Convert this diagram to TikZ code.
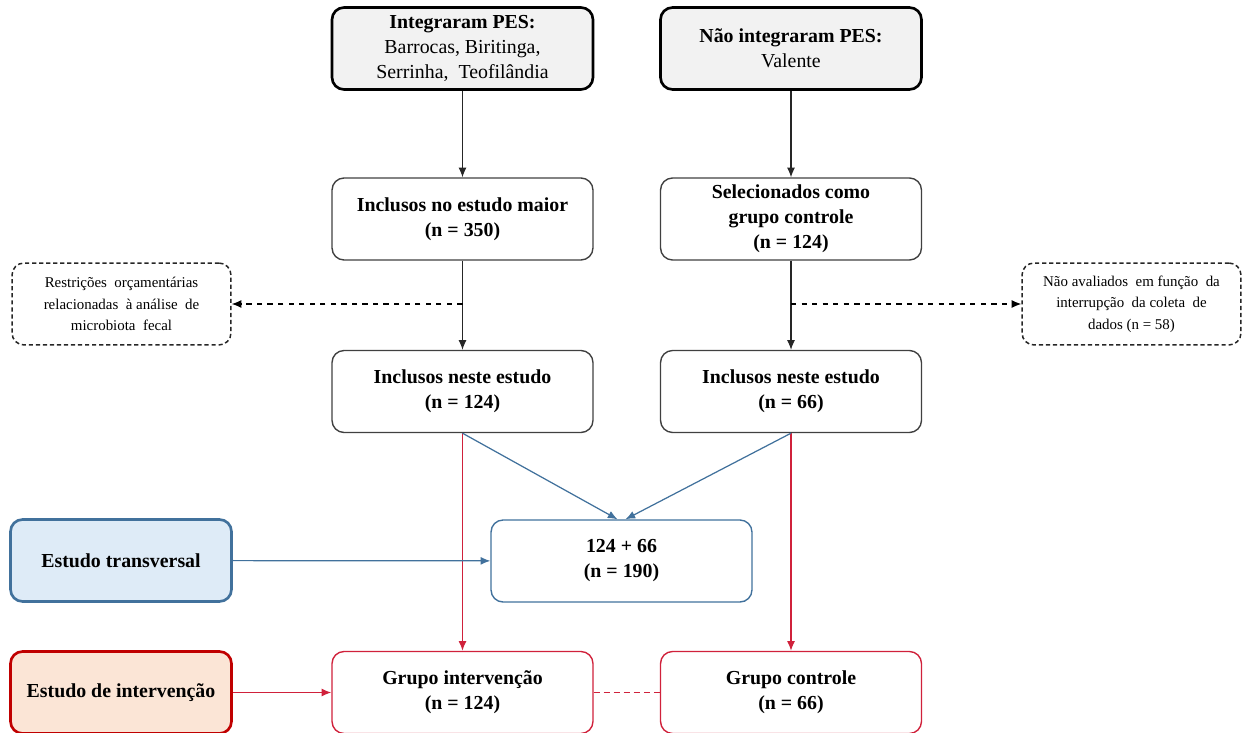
\documentclass[tikz,border=0pt]{standalone}
\usepackage{fontspec}
\setmainfont{Liberation Serif}
\usetikzlibrary{arrows.meta}

\definecolor{boxgray}{HTML}{F2F2F2}
\definecolor{lineblue}{HTML}{41719C}
\definecolor{fillblue}{HTML}{DEEBF7}
\definecolor{linered}{HTML}{C00000}
\definecolor{arrowred}{HTML}{D0213B}
\definecolor{fillred}{HTML}{FBE5D6}

\begin{document}
\begin{tikzpicture}[x=0.02cm,y=-0.02cm,>={Latex[length=5.5pt,width=4.5pt]},
		box/.style={draw=black!75, line width=0.8pt, rounded corners=0.24cm, align=center,
			minimum width=5.22cm, minimum height=1.64cm, inner sep=2pt,
			font=\fontsize{11.3}{14.2}\selectfont},
		topbox/.style={box, draw=black, line width=1.5pt, fill=boxgray},
		notebox/.style={draw=black!85, line width=0.85pt, dash pattern=on 2.4pt off 1.6pt,
			rounded corners=0.24cm, align=center, minimum width=4.38cm, minimum height=1.64cm,
			inner sep=2pt, font=\fontsize{8.5}{12.3}\selectfont},
		sidebox/.style={box, line width=1.5pt, minimum width=4.42cm}]
	\useasboundingbox (0,0) rectangle (1244,733);
	
	% top row
	\node[topbox] (integ) at (462.5,48.5) {\textbf{Integraram PES:}\\Barrocas, Biritinga,\\Serrinha,\ \ Teofilândia};
	\node[topbox] (naoint) at (791,48.5) {\textbf{Não integraram PES:}\\Valente};
	
	\node[box] (maior) at (462.5,219) {\textbf{Inclusos no estudo maior}\\\textbf{(n = 350)}};
	\node[box] (selec) at (791,219) {\textbf{Selecionados como}\\\textbf{grupo controle}\\\textbf{(n = 124)}};
	
	\node[notebox] (restr) at (121.5,304) {Restrições\ \ orçamentárias\\relacionadas\ \ à análise\ \ de\\microbiota\ \ fecal};
	\node[notebox] (naoaval) at (1131.5,304) {Não avaliados\ \ em função\ \ da\\interrupção\ \ da coleta\ \ de\\dados (n = 58)};
	
	\node[box] (neste1) at (462.5,391.5) {\textbf{Inclusos neste estudo}\\\textbf{(n = 124)}};
	\node[box] (neste2) at (791,391.5) {\textbf{Inclusos neste estudo}\\\textbf{(n = 66)}};
	
	% bottom part
	\node[box, draw=lineblue] (soma) at (621.5,561) {\textbf{124 + 66}\\\textbf{(n = 190)}};
	\node[sidebox, draw=lineblue, fill=fillblue] (transv) at (121,560.5) {\textbf{Estudo transversal}};
	\node[sidebox, draw=linered, fill=fillred] (interv) at (121,692.5) {\textbf{Estudo de intervenção}};
	\node[box, draw=arrowred] (grupoi) at (462.5,692.5) {\textbf{Grupo intervenção}\\\textbf{(n = 124)}};
	\node[box, draw=arrowred] (grupoc) at (791,692.5) {\textbf{Grupo controle}\\\textbf{(n = 66)}};
	
	\draw[->, black!85, line width=0.6pt] (integ) -- (maior);
	\draw[->, black!85, line width=0.6pt] (naoint) -- (selec);
	\draw[->, black!85, line width=0.6pt] (maior) -- (neste1);
	\draw[->, black!85, line width=0.6pt] (selec) -- (neste2);
	\draw[dashed,->, line width=0.6pt] (maior.south |- restr.east) -- (restr.east);
	\draw[dashed,->, line width=0.6pt] (selec.south |- naoaval.west) -- (naoaval.west);
	
	\draw[->, arrowred, line width=0.7pt] (neste1.south) -- (grupoi.north);
	\draw[->, arrowred, line width=0.7pt] (neste2.south) -- (grupoc.north);
	\draw[->, lineblue, line width=0.7pt] (neste1.south) -- ([xshift=-0.08cm]soma.north);
	\draw[->, lineblue, line width=0.7pt] (neste2.south) -- ([xshift=0.08cm]soma.north);
	\draw[->, lineblue, line width=0.7pt] (transv) -- (soma);
	\draw[->, arrowred, line width=0.7pt] (interv) -- (grupoi);
	\draw[arrowred, line width=0.7pt, dash pattern=on 3.4pt off 2.3pt] (grupoi) -- (grupoc);
\end{tikzpicture}
\end{document}
